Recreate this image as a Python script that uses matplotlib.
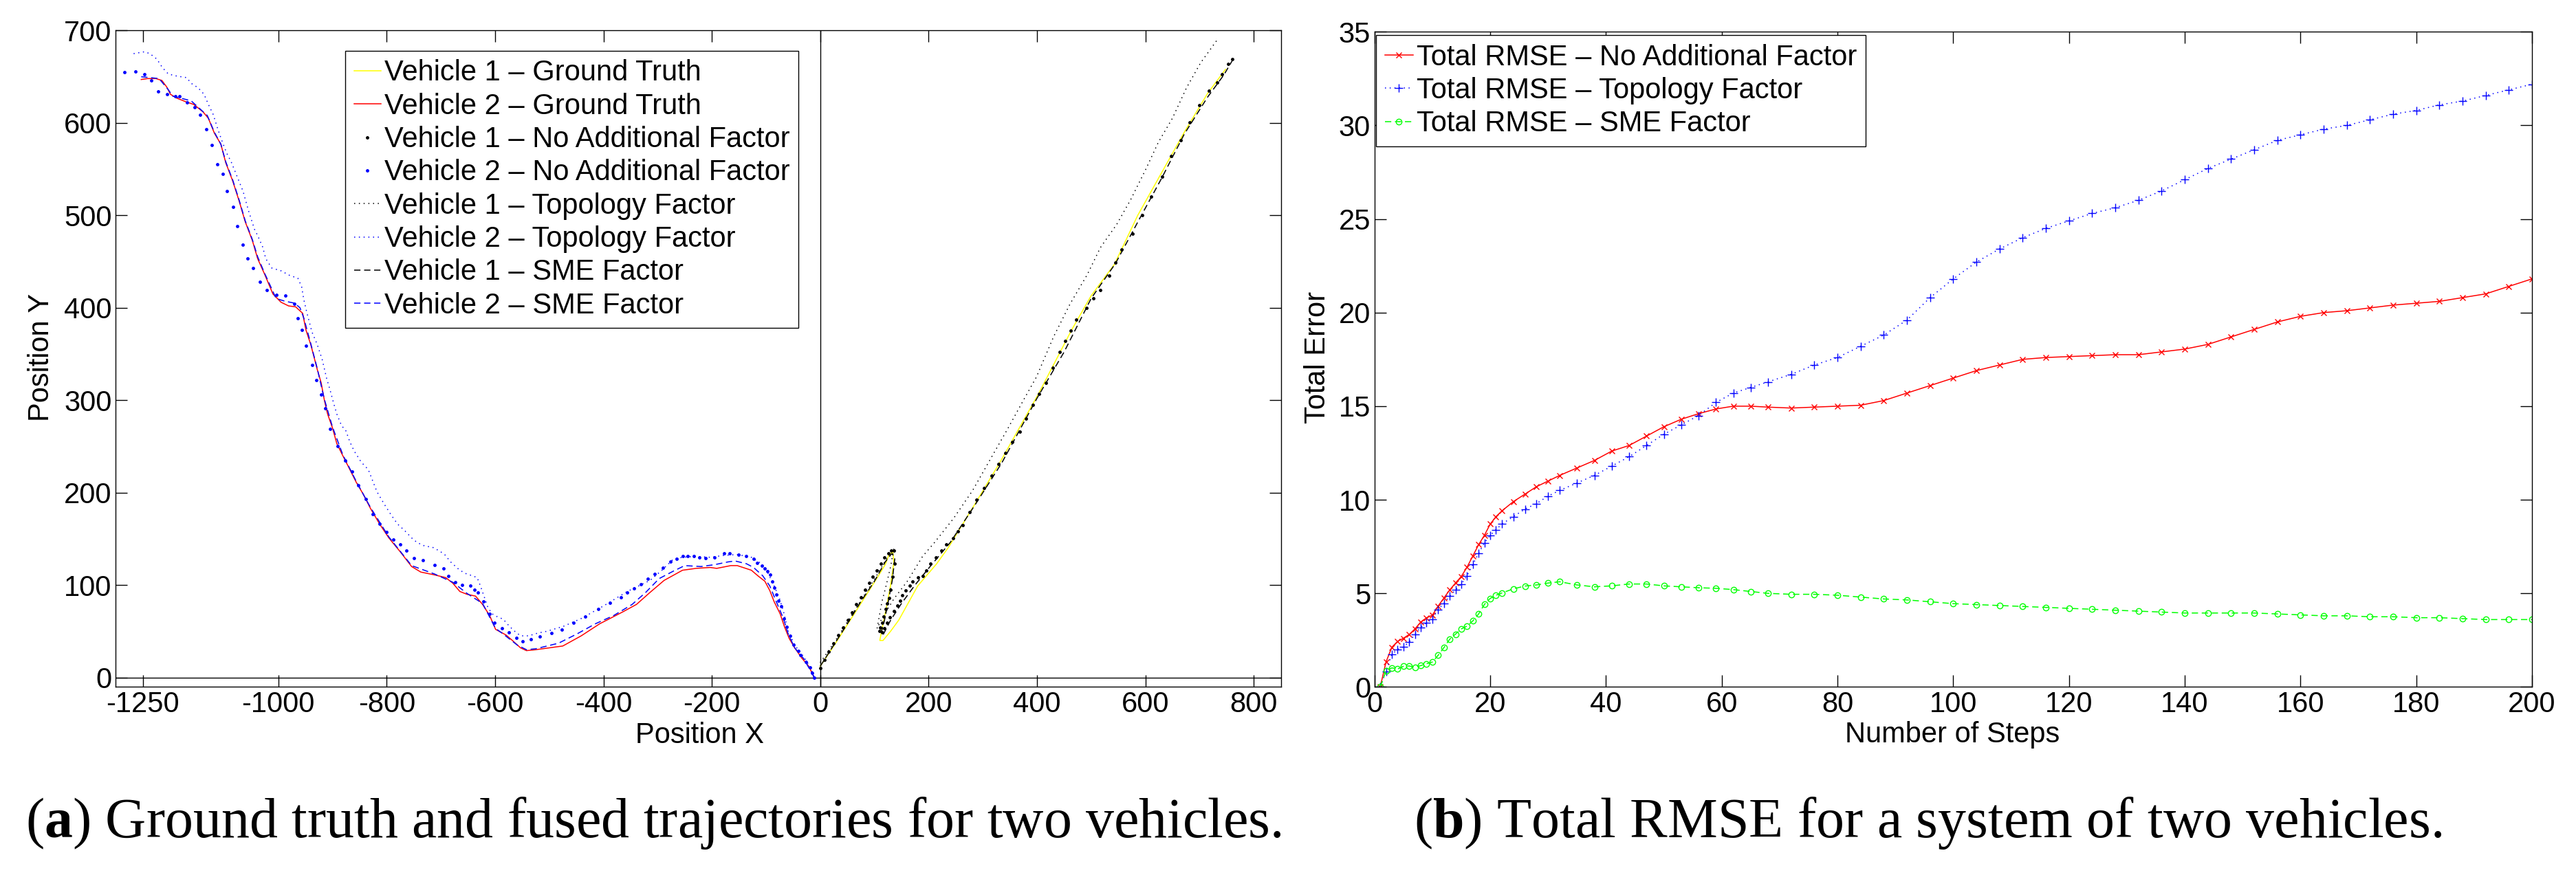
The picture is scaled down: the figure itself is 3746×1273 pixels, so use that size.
import matplotlib
matplotlib.use('Agg')
import matplotlib.pyplot as plt

plt.rcParams['font.family'] = ['Liberation Sans', 'DejaVu Sans']
plt.rcParams['font.size'] = 30
plt.rcParams['axes.unicode_minus'] = False
plt.rcParams['mathtext.fontset'] = 'custom'
plt.rcParams['mathtext.rm'] = 'Liberation Serif'
plt.rcParams['mathtext.bf'] = 'Liberation Serif:bold'

# ---------------- (a) trajectories ----------------
# vehicle 2 (left branch)
v2_gt_x = [-1253, -1241, -1226, -1215, -1206, -1199, -1188, -1171, -1156, -1139, -1129, -1118, -1106, -1097,
           -1084, -1072, -1061, -1048, -1038, -1025, -1010, -995, -981, -968, -955, -949, -940, -928, -921,
           -915, -909, -900, -892, -881, -868, -856, -843, -830, -813, -796, -775, -754, -737, -712, -691,
           -678, -665, -652, -636, -623, -610, -599, -580, -568, -553, -542, -525, -500, -475, -441, -407,
           -364, -339, -314, -288, -254, -229, -203, -191, -165, -153, -127, -115, -102, -93, -85, -74, -66,
           -57, -47, -34, -21, -11]
v2_gt_y = [647, 648, 648, 646, 639, 631, 627, 623, 620, 612, 605, 589, 577, 557,
           537, 515, 493, 473, 453, 436, 415, 406, 402, 401, 394, 376, 360, 333, 319,
           300, 285, 270, 253, 240, 225, 211, 198, 183, 166, 151, 136, 120, 114, 111, 108,
           102, 93, 90, 88, 79, 67, 52, 46, 40, 32, 29, 30, 32, 34, 45, 58,
           71, 79, 92, 105, 116, 118, 119, 118, 121, 121, 116, 110, 104, 94, 82, 69, 55,
           42, 32, 21, 12, 0]

v2_none_x = [-1284, -1264, -1247, -1235, -1222, -1205, -1190, -1182, -1169, -1154, -1144, -1133, -1123, -1112,
             -1103, -1095, -1084, -1076, -1065, -1057, -1046, -1034, -1021, -1004, -987, -970, -964, -957,
             -949, -938, -930, -921, -913, -904, -890, -876, -864, -852, -839, -826, -813, -801, -788, -775,
             -763, -750, -733, -712, -695, -686, -674, -661, -646, -638, -631, -621, -610, -601, -587, -574,
             -561, -549, -534, -517, -496, -477, -455, -434, -409, -388, -368, -356, -343, -331, -318, -305,
             -290, -276, -265, -254, -244, -233, -223, -212, -195, -177, -167, -151, -137, -123, -117, -108,
             -102, -97, -92, -89, -85, -81, -77, -72, -67, -62, -55, -49, -40, -36, -26, -19, -15, -11]
v2_none_y = [655, 656, 653, 646, 634, 631, 629, 629, 622, 617, 609, 593, 576, 555,
             545, 526, 509, 488, 468, 453, 443, 428, 419, 414, 413, 404, 389, 376,
             359, 338, 322, 306, 291, 269, 250, 235, 223, 208, 193, 177, 166, 157, 149, 144,
             137, 129, 127, 122, 118, 110, 103, 100, 99, 95, 92, 82, 69, 59, 53, 49,
             43, 39, 41, 44, 48, 52, 59, 66, 74, 81, 87, 92, 96, 101, 107, 112,
             119, 125, 128, 131, 131, 131, 130, 129, 130, 134, 134, 133, 131, 128, 124, 121,
             118, 115, 111, 104, 97, 90, 83, 77, 64, 55, 45, 35, 29, 24, 17, 11, 5, 0]

v2_topo_x = [-1267, -1247, -1237, -1224, -1214, -1203, -1190, -1169, -1161, -1148, -1137, -1129, -1120, -1112,
             -1103, -1095, -1087, -1076, -1065, -1055, -1044, -1038, -1029, -1023, -1012, -995, -979, -964,
             -957, -953, -947, -938, -928, -919, -911, -904, -898, -892, -883, -876, -868, -860, -847, -834,
             -826, -818, -805, -792, -780, -767, -754, -744, -729, -716, -703, -693, -682, -669, -657, -642,
             -633, -627, -621, -614, -606, -597, -585, -576, -566, -553, -538, -521, -504, -487, -475, -440,
             -398, -356, -335, -314, -292, -271, -254, -229, -203, -178, -153, -127, -108, -98, -85, -76, -68,
             -59, -47, -30, -17, -11]
v2_topo_y = [675, 677, 675, 669, 660, 653, 651, 649, 643, 638, 631, 620, 609, 594,
             579, 567, 558, 542, 526, 505, 485, 478, 466, 453, 443, 440, 435, 432,
             423, 409, 394, 374, 360, 344, 324, 310, 297, 285, 272, 268, 255, 245, 233, 225,
             213, 201, 188, 176, 166, 159, 151, 146, 142, 141, 137, 133, 125, 118, 113, 110,
             108, 99, 89, 77, 69, 66, 63, 57, 51, 45, 45, 48, 50, 53, 55, 64,
             78, 93, 99, 105, 116, 128, 130, 131, 130, 132, 133, 130, 123, 115, 99, 87, 72,
             50, 35, 22, 10, 0]

v2_sme_x = [-1253, -1220, -1203, -1195, -1161, -1131, -1118, -1106, -1097, -1084, -1072, -1061, -1048, -1038,
            -1025, -1004, -987, -970, -960, -953, -940, -928, -915, -900, -881, -856, -830, -796, -754,
            -712, -678, -652, -623, -599, -585, -559, -542, -525, -483, -449, -415, -381, -347, -322,
            -297, -271, -250, -220, -195, -170, -157, -136, -123, -106, -93, -81, -68, -59, -47, -30, -11]
v2_sme_y = [650, 648, 636, 629, 624, 608, 590, 577, 558, 538, 516, 494, 474, 455,
            437, 410, 407, 405, 400, 389, 361, 334, 301, 271, 241, 212, 184, 152, 121,
            112, 103, 91, 80, 53, 47, 35, 30, 31, 37, 47, 58, 67, 79, 92,
            107, 115, 121, 120, 122, 125, 126, 123, 119, 110, 99, 82, 64, 47, 32, 20, 0]

# vehicle 1 (right branch)
v1_gt_x = [0, 25, 50, 75, 100, 120, 127, 134, 136, 130, 122, 115, 110, 116, 130, 145, 180, 215, 237,
           285, 333, 403, 464, 500, 543, 586, 629, 672, 715, 748]
v1_gt_y = [12, 34, 57, 80, 103, 122, 133, 136, 125, 100, 75, 55, 40, 40, 50, 62, 99, 123, 141,
           187, 234, 307, 376, 413, 447, 500, 545, 590, 632, 658]

v1_none_x = [0, 8, 16, 25, 33, 42, 51, 59, 67, 75, 83, 90, 97, 104, 112, 119, 126, 131, 136, 138, 134, 130,
             127, 124, 121, 117, 114, 111, 109, 114, 118, 123, 129, 136, 142, 147, 152, 158, 165, 171, 180,
             189, 196, 204, 214, 224, 232, 245, 254, 263, 276, 289, 302, 316, 329, 342, 355, 368, 380, 392,
             404, 416, 429, 442, 452, 462, 473, 491, 504, 517, 534, 545, 556, 577, 594, 611, 631, 648, 665,
             682, 699, 717, 732, 742, 753, 760]
v1_none_y = [10, 19, 28, 37, 46, 54, 62, 70, 79, 87, 95, 102, 109, 116, 123, 130, 134, 137, 137, 123, 109, 95,
             86, 80, 74, 66, 59, 54, 50, 49, 53, 59, 65, 72, 78, 83, 89, 94, 99, 104, 108,
             110, 116, 123, 130, 137, 144, 151, 158, 165, 179, 192, 205, 218, 231, 243, 255, 266, 280, 295,
             307, 319, 335, 352, 364, 375, 387, 400, 410, 419, 435, 449, 463, 480, 500, 520, 542, 564, 581,
             601, 619, 635, 644, 653, 664, 669]

v1_topo_x = [0, 25, 50, 75, 100, 120, 136, 130, 122, 114, 105, 114, 136, 162, 189, 211, 246, 281, 311,
             346, 377, 399, 431, 461, 493, 517, 547, 573, 601, 624, 650, 676, 702, 734]
v1_topo_y = [16, 37, 60, 83, 106, 126, 140, 120, 100, 82, 53, 64, 85, 105, 131, 146, 172, 202, 233,
             269, 302, 325, 369, 404, 436, 465, 490, 517, 550, 579, 605, 638, 665, 691]

v1_sme_x = [0, 25, 50, 75, 100, 120, 132, 138, 133, 125, 118, 112, 116, 130, 150, 175, 200, 220, 240,
            285, 335, 400, 450, 500, 545, 590, 630, 672, 715, 745, 762]
v1_sme_y = [12, 35, 58, 82, 104, 125, 134, 130, 105, 80, 60, 47, 46, 62, 80, 100, 118, 132, 146,
            186, 232, 302, 352, 410, 448, 497, 540, 588, 628, 652, 669]

xticks_a = [-1250, -1000, -800, -600, -400, -200, 0, 200, 400, 600, 800]
yticks_a = [0, 100, 200, 300, 400, 500, 600, 700]

# ---------------- (b) total RMSE ----------------
steps = [1, 2, 3, 4, 5, 6, 7, 8, 9, 10, 11, 12, 13, 14, 15, 16, 17, 18, 19, 20, 21, 22, 24, 26, 28, 30,
         32, 35, 38, 41, 44, 47, 50, 53, 56, 59, 62, 65, 68, 72, 76, 80, 84, 88, 92, 96, 100, 104, 108,
         112, 116, 120, 124, 128, 132, 136, 140, 144, 148, 152, 156, 160, 164, 168, 172, 176, 180, 184,
         188, 192, 196, 200]
rmse_none = [0, 1.33, 2.12, 2.43, 2.6, 2.8, 3.1, 3.47, 3.69, 3.83, 4.32, 4.75, 5.18, 5.55, 5.9, 6.4, 7.0,
             7.6, 8.1, 8.7, 9.1, 9.4, 9.9, 10.3, 10.7, 11.0, 11.3, 11.7, 12.1, 12.6, 12.9, 13.4, 13.9,
             14.3, 14.6, 14.85, 15.0, 15.0, 14.95, 14.9, 14.95, 15.0, 15.05, 15.3, 15.7, 16.1, 16.5, 16.9,
             17.2, 17.5, 17.6, 17.65, 17.7, 17.75, 17.75, 17.9, 18.05, 18.3, 18.7, 19.1, 19.5, 19.8, 20.0,
             20.1, 20.25, 20.4, 20.5, 20.6, 20.8, 21.0, 21.4, 21.8]
rmse_topo = [0, 0.83, 1.75, 2.0, 2.14, 2.4, 2.82, 3.18, 3.43, 3.63, 4.14, 4.47, 4.85, 5.18, 5.5, 5.94, 6.55,
             7.14, 7.7, 8.1, 8.4, 8.7, 9.1, 9.5, 9.8, 10.2, 10.5, 10.9, 11.3, 11.8, 12.3, 12.9, 13.5,
             14.0, 14.5, 15.2, 15.7, 16.0, 16.3, 16.7, 17.2, 17.6, 18.2, 18.8, 19.6, 20.8, 21.8, 22.7,
             23.4, 24.0, 24.5, 24.9, 25.3, 25.6, 26.0, 26.5, 27.1, 27.7, 28.2, 28.7, 29.2, 29.5, 29.8,
             30.0, 30.3, 30.6, 30.8, 31.1, 31.3, 31.6, 31.9, 32.2]
rmse_sme = [0, 0.86, 1.02, 0.96, 1.1, 1.12, 1.05, 1.14, 1.24, 1.33, 1.69, 2.1, 2.55, 2.82, 3.1, 3.25, 3.53,
            3.9, 4.41, 4.73, 4.9, 5.02, 5.24, 5.39, 5.45, 5.55, 5.62, 5.45, 5.35, 5.4, 5.5, 5.5, 5.4,
            5.35, 5.3, 5.27, 5.2, 5.1, 5.0, 4.95, 4.95, 4.9, 4.8, 4.7, 4.65, 4.55, 4.45, 4.4,
            4.35, 4.3, 4.25, 4.2, 4.15, 4.1, 4.05, 4.0, 3.95, 3.95, 3.95, 3.95, 3.9, 3.85, 3.8,
            3.8, 3.75, 3.75, 3.7, 3.7, 3.65, 3.6, 3.6, 3.6]

xticks_b = list(range(0, 201, 20))
yticks_b = list(range(0, 36, 5))

W, H = 3746, 1273
fig = plt.figure(figsize=(W / 100, H / 100), dpi=100)

DOT = (0, (1, 3.5))
DASH = (0, (6, 3.5))


def style(ax):
    ax.tick_params(direction='in', length=12, width=1.0, top=True, right=True, pad=4)
    for s in ax.spines.values():
        s.set_linewidth(1.0)


# panel (a)
ax1 = fig.add_axes([168.3 / W, 1 - 999 / H, (1862.5 - 168.3) / W, (999 - 44.4) / H])
ax1.axhline(0, color='k', lw=1.0, zorder=1)
ax1.axvline(0, color='k', lw=1.0, zorder=1)
ax1.plot(v1_gt_x, v1_gt_y, '-', color='yellow', lw=1.1, label='Vehicle 1 – Ground Truth')
ax1.plot(v2_gt_x, v2_gt_y, '-', color='red', lw=1.1, label='Vehicle 2 – Ground Truth')
ax1.plot(v1_none_x, v1_none_y, '.', color='black', ms=5, label='Vehicle 1 – No Additional Factor')
ax1.plot(v2_none_x, v2_none_y, '.', color='blue', ms=5, label='Vehicle 2 – No Additional Factor')
ax1.plot(v1_topo_x, v1_topo_y, color='black', lw=1.1, ls=DOT, label='Vehicle 1 – Topology Factor')
ax1.plot(v2_topo_x, v2_topo_y, color='blue', lw=1.1, ls=DOT, label='Vehicle 2 – Topology Factor')
ax1.plot(v1_sme_x, v1_sme_y, color='black', lw=1.1, ls=DASH, label='Vehicle 1 – SME Factor')
ax1.plot(v2_sme_x, v2_sme_y, color='blue', lw=1.1, ls=DASH, label='Vehicle 2 – SME Factor')
ax1.set_xlim(-1300, 850)
ax1.set_ylim(-10, 700)
ax1.set_xticks(xticks_a)
ax1.set_yticks(yticks_a)
style(ax1)
leg1 = ax1.legend(loc='upper left', bbox_to_anchor=(0.197, 0.969), borderaxespad=0, fontsize=30,
                  handlelength=0.95, handletextpad=0.12, labelspacing=0.2, borderpad=0.3,
                  numpoints=1, fancybox=False, framealpha=1, edgecolor='black')
leg1.get_frame().set_linewidth(1.0)
fig.text(1017 / W, 1 - 1081 / H, 'Position X', ha='center', va='baseline', fontsize=30)
fig.text(60 / W, 1 - 520 / H, 'Position Y', ha='center', va='center', rotation=90, fontsize=30)

# panel (b)
ax2 = fig.add_axes([1998.7 / W, 1 - 999.4 / H, (3682 - 1998.7) / W, (999.4 - 46.3) / H])
ax2.plot(steps, rmse_none, marker='x', color='red', lw=1.1, ms=6, mew=1.0,
         label='Total RMSE – No Additional Factor')
ax2.plot(steps, rmse_topo, marker='+', color='blue', lw=1.1, ls=DOT, ms=8, mew=1.0,
         label='Total RMSE – Topology Factor')
ax2.plot(steps, rmse_sme, marker='o', color='#00ff00', lw=1.1, ls=DASH, ms=6, mew=1.0, mfc='none',
         label='Total RMSE – SME Factor')
ax2.set_xlim(0, 200)
ax2.set_ylim(0, 35)
ax2.set_xticks(xticks_b)
ax2.set_yticks(yticks_b)
style(ax2)
leg2 = ax2.legend(loc='upper left', bbox_to_anchor=(0.0014, 0.995), borderaxespad=0, fontsize=30,
                  handlelength=1.0, handletextpad=0.12, labelspacing=0.2, borderpad=0.3,
                  numpoints=1, fancybox=False, framealpha=1, edgecolor='black')
leg2.get_frame().set_linewidth(1.0)
fig.text(2839 / W, 1 - 1080 / H, 'Number of Steps', ha='center', va='baseline', fontsize=30)
fig.text(1916 / W, 1 - 520 / H, 'Total Error', ha='center', va='center', rotation=90, fontsize=30)

# captions
cap_a = fig.text(950 / W, 1 - 1218 / H, r'($\mathbf{a}$) Ground truth and fused trajectories for two vehicles.',
                 ha='center', va='baseline', family='Liberation Serif', fontsize=52)
cap_b = fig.text(2804 / W, 1 - 1218 / H, r'($\mathbf{b}$) Total RMSE for a system of two vehicles.',
                 ha='center', va='baseline', family='Liberation Serif', fontsize=52)
r = fig.canvas.get_renderer()
wa = cap_a.get_window_extent(r).width
fs = 52 * 1827 / wa
cap_a.set_fontsize(fs)
cap_b.set_fontsize(fs)

fig.savefig('out.png', dpi=100)
